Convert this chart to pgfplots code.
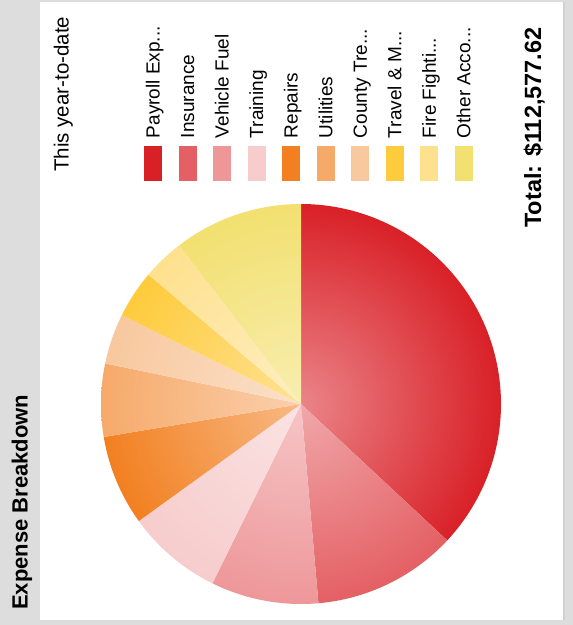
\documentclass[border=0pt]{standalone}
\usepackage{pgfplots}
\pgfplotsset{compat=1.18}
\usepackage{fontspec}
\setmainfont{Liberation Sans}
\definecolor{bgGray}{HTML}{DDDDDD}
\definecolor{cPay}{HTML}{D92027}
\definecolor{cIns}{HTML}{E46064}
\definecolor{cVeh}{HTML}{EE9799}
\definecolor{cTra}{HTML}{F7CCCC}
\definecolor{cRep}{HTML}{F28021}
\definecolor{cUti}{HTML}{F6AA6A}
\definecolor{cCou}{HTML}{F8C89E}
\definecolor{cTrv}{HTML}{FECB3C}
\definecolor{cFir}{HTML}{FEE18E}
\definecolor{cOth}{HTML}{F2E070}
\def\ddd{...}
% expense amounts, thousands of dollars
\def\vPay{41.586}
\def\vIns{13.134}
\def\vVeh{9.788}
\def\vTra{8.725}
\def\vRep{8.225}
\def\vUti{6.630}
\def\vCou{4.597}
\def\vTrv{4.347}
\def\vFir{3.815}
\def\vOth{11.727}
\newcommand\slice[3]{%
  \pgfmathsetmacro\phiA{90-(#2)/\cJ*360}%
  \pgfmathsetmacro\phiB{90-(#1)/\cJ*360}%
  \addplot[draw=none, inner color=#3!55!white, outer color=#3, domain=\phiA:\phiB, samples=90, variable=\t]
    ({301+200*cos(\t)},{221+200*sin(\t)}) -- (axis cs:301,221) -- cycle (axis cs:101,21) (axis cs:501,421);
}
\begin{document}
\begin{tikzpicture}
\pgfmathsetmacro\cA{\vPay}
\pgfmathsetmacro\cB{\cA+\vIns}
\pgfmathsetmacro\cC{\cB+\vVeh}
\pgfmathsetmacro\cD{\cC+\vTra}
\pgfmathsetmacro\cE{\cD+\vRep}
\pgfmathsetmacro\cF{\cE+\vUti}
\pgfmathsetmacro\cG{\cF+\vCou}
\pgfmathsetmacro\cH{\cG+\vTrv}
\pgfmathsetmacro\cI{\cH+\vFir}
\pgfmathsetmacro\cJ{\cI+\vOth}
\begin{scope}[x=1pt,y=1pt]
\fill[bgGray] (0,0) rectangle (573,625);
\fill[black!18] (563,5) rectangle (565,623);
\fill[white] (40,5) rectangle (563,623);
\end{scope}
\begin{axis}[at={(0pt,0pt)}, anchor=south west, scale only axis,
  width=573pt, height=625pt, xmin=0, xmax=573, ymin=0, ymax=625,
  hide axis, clip=false]
\slice{0}{\cA}{cPay}
\slice{\cA}{\cB}{cIns}
\slice{\cB}{\cC}{cVeh}
\slice{\cC}{\cD}{cTra}
\slice{\cD}{\cE}{cRep}
\slice{\cE}{\cF}{cUti}
\slice{\cF}{\cG}{cCou}
\slice{\cG}{\cH}{cTrv}
\slice{\cH}{\cI}{cFir}
\slice{\cI}{\cJ}{cOth}
\end{axis}
\begin{scope}[x=1pt,y=1pt]
\foreach \i/\c/\name in {0/cPay/{Payroll Exp\ddd},1/cIns/Insurance,2/cVeh/{Vehicle Fuel},3/cTra/Training,4/cRep/Repairs,5/cUti/Utilities,6/cCou/{County Tre\ddd},7/cTrv/{Travel \& M\ddd},8/cFir/{Fire Fighti\ddd},9/cOth/{Other Acco\ddd}}{
  \pgfmathsetmacro\xl{144+\i*34.55}
  \fill[\c] (\xl,444) rectangle ++(18,35);
  \node[rotate=90, anchor=base west, inner sep=0pt, font=\fontsize{19}{22}\selectfont] at (\xl+15.5,486.7) {\name};
}
\node[rotate=90, anchor=base west, inner sep=0pt, font=\fontsize{20.5}{24}\selectfont] at (68.5,453) {This year-to-date};
\node[rotate=90, anchor=base west, inner sep=0pt, font=\bfseries\fontsize{22}{26}\selectfont] at (27.5,15) {Expense Breakdown};
\node[rotate=90, anchor=base west, inner sep=0pt, font=\bfseries\fontsize{23.5}{28}\selectfont] at (541,397) {Total: \$112,577.62};
\end{scope}
\end{tikzpicture}
\end{document}
